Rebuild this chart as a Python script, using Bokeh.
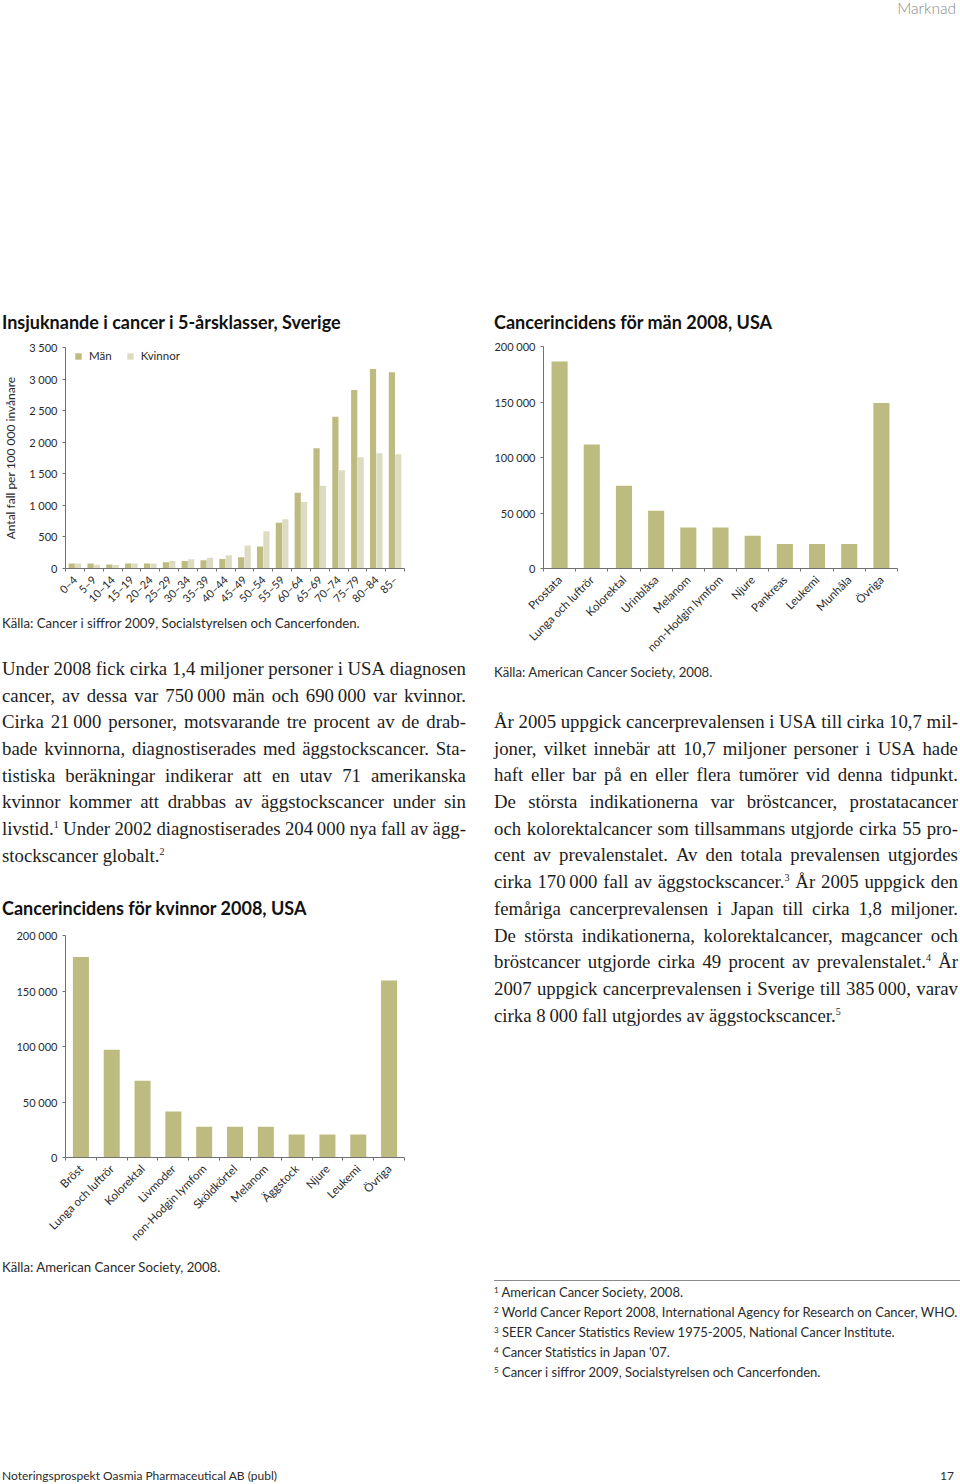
import math
from bokeh.plotting import figure
from bokeh.models import Range1d, FixedTicker, Legend, LegendItem, Div, ColumnDataSource
from bokeh.layouts import column, row
from bokeh.embed import file_html
from bokeh.resources import INLINE

# ---------------- data ----------------
age_groups = ["0–4", "5–9", "10–14", "15–19", "20–24", "25–29", "30–34", "35–39", "40–44",
              "45–49", "50–54", "55–59", "60–64", "65–69", "70–74", "75–79", "80–84", "85–"]
man_rate = [80, 80, 65, 80, 80, 100, 120, 130, 150, 180, 350, 725, 1200, 1905, 2405, 2825, 3160, 3110]
kvinnor_rate = [80, 60, 55, 80, 80, 120, 145, 170, 210, 365, 590, 780, 1055, 1310, 1555, 1760, 1825, 1810]
rate_ticks = [0, 500, 1000, 1500, 2000, 2500, 3000, 3500]

men_sites = ["Prostata", "Lunga och luftrör", "Kolorektal", "Urinblåsa", "Melanom",
             "non-Hodgin lymfom", "Njure", "Pankreas", "Leukemi", "Munhåla", "Övriga"]
men_cases = [186500, 111700, 74500, 52000, 37000, 37000, 29500, 22000, 22000, 22000, 149000]

women_sites = ["Bröst", "Lunga och luftrör", "Kolorektal", "Livmoder", "non-Hodgin lymfom",
               "Sköldkörtel", "Melanom", "Äggstock", "Njure", "Leukemi", "Övriga"]
women_cases = [180700, 97000, 69200, 41500, 27700, 27700, 27700, 20700, 20700, 20700, 159400]
case_ticks = [0, 50000, 100000, 150000, 200000]

# ---------------- styles ----------------
SANS = "Lato"
SERIF = "Liberation Serif"
OLIVE = "#bdbb80"
PALE = "#dddcc2"
AXIS = "#707070"
TXT = "#2a2a2a"
THIN = "\u2009"


def fmt(v):
    return f"{v:,}".replace(",", " ")


def bar_figure(width, height, bl, br, bt, bb, n, cats, ymax, yticks):
    p = figure(width=width, height=height, x_range=Range1d(0, n), y_range=Range1d(0, ymax),
               output_backend="svg", toolbar_location=None, title=None,
               min_border_left=bl, min_border_right=br, min_border_top=bt, min_border_bottom=bb)
    p.xgrid.visible = False
    p.ygrid.visible = False
    p.outline_line_color = None
    p.background_fill_color = "white"
    p.border_fill_color = "white"
    xa = p.xaxis[0]
    xa.ticker = FixedTicker(ticks=[i + 0.5 for i in range(n)], minor_ticks=list(range(n + 1)))
    xa.major_label_overrides = {i + 0.5: c for i, c in enumerate(cats)}
    xa.major_label_orientation = math.pi / 4
    xa.major_tick_line_color = None
    xa.minor_tick_in = 0
    xa.minor_tick_out = 3
    xa.minor_tick_line_color = AXIS
    xa.axis_line_color = AXIS
    xa.major_label_text_font = SANS
    xa.major_label_text_font_size = "11.5px"
    xa.major_label_text_color = TXT
    xa.major_label_standoff = 3
    ya = p.yaxis[0]
    ya.ticker = FixedTicker(ticks=yticks, minor_ticks=[])
    ya.major_label_overrides = {t: fmt(t) for t in yticks}
    ya.axis_line_color = AXIS
    ya.major_tick_line_color = AXIS
    ya.major_tick_in = 0
    ya.major_tick_out = 3
    ya.minor_tick_line_color = None
    ya.major_label_text_font = SANS
    ya.major_label_text_font_size = "11px"
    ya.major_label_text_color = TXT
    ya.major_label_standoff = 5
    return p


LW, RW = 488, 472

# Chart 1: Sweden by age group
n1 = len(age_groups)
src1 = ColumnDataSource(dict(
    xm=[i + 0.5 - 0.17 for i in range(n1)],
    xk=[i + 0.5 + 0.17 for i in range(n1)],
    man=man_rate, kv=kvinnor_rate))
p1 = bar_figure(LW, 278, 60, 75, 13, 43, n1, age_groups, 3500, rate_ticks)
r_m = p1.vbar(x="xm", top="man", width=0.33, source=src1, fill_color=OLIVE, line_color=None)
r_k = p1.vbar(x="xk", top="kv", width=0.33, source=src1, fill_color=PALE, line_color=None)
p1.xaxis.major_label_text_font_size = "11px"
p1.yaxis.axis_label = "Antal fall per 100 000 invånare"
p1.yaxis.axis_label_text_font = SANS
p1.yaxis.axis_label_text_font_size = "12px"
p1.yaxis.axis_label_text_font_style = "normal"
p1.yaxis.axis_label_text_color = TXT
p1.yaxis.axis_label_standoff = 8
p1.yaxis.major_label_standoff = 5
leg = Legend(items=[LegendItem(label="Män", renderers=[r_m]),
                    LegendItem(label="Kvinnor", renderers=[r_k])],
             orientation="horizontal", location=(9, 206),
             border_line_color=None, background_fill_alpha=0, padding=0, margin=0,
             spacing=14, glyph_width=8, glyph_height=8, label_standoff=7,
             label_height=12, label_width=10,
             label_text_font=SANS, label_text_font_size="11.5px", label_text_color=TXT)
p1.add_layout(leg)

# Chart 2: men USA
n2 = len(men_sites)
src2 = ColumnDataSource(dict(x=[i + 0.5 for i in range(n2)], v=men_cases))
p2 = bar_figure(RW, 327, 55, 63, 12, 93, n2, men_sites, 200000, case_ticks)
p2.vbar(x="x", top="v", width=0.5, source=src2, fill_color=OLIVE, line_color=None)

# Chart 3: women USA
n3 = len(women_sites)
src3 = ColumnDataSource(dict(x=[i + 0.5 for i in range(n3)], v=women_cases))
p3 = bar_figure(LW, 336, 52, 84, 15, 99, n3, women_sites, 200000, case_ticks)
p3.vbar(x="x", top="v", width=0.52, source=src3, fill_color=OLIVE, line_color=None)

# ---------------- texts ----------------
para1 = [
    "Under 2008 fick cirka 1,4 miljoner personer i USA diagnosen",
    "cancer, av dessa var 750" + THIN + "000 män och 690" + THIN + "000 var kvinnor.",
    "Cirka 21" + THIN + "000 personer, motsvarande tre procent av de drab-",
    "bade kvinnorna, diagnostiserades med äggstockscancer. Sta-",
    "tistiska beräkningar indikerar att en utav 71 amerikanska",
    "kvinnor kommer att drabbas av äggstockscancer under sin",
    "livstid.<sup1> Under 2002 diagnostiserades 204" + THIN + "000 nya fall av ägg-",
    "stockscancer globalt.<sup2>",
]
para2 = [
    "År 2005 uppgick cancerprevalensen i USA till cirka 10,7 mil-",
    "joner, vilket innebär att 10,7 miljoner personer i USA hade",
    "haft eller bar på en eller flera tumörer vid denna tidpunkt.",
    "De största indikationerna var bröstcancer, prostatacancer",
    "och kolorektalcancer som tillsammans utgjorde cirka 55 pro-",
    "cent av prevalenstalet. Av den totala prevalensen utgjordes",
    "cirka 170" + THIN + "000 fall av äggstockscancer.<sup3> År 2005 uppgick den",
    "femåriga cancerprevalensen i Japan till cirka 1,8 miljoner.",
    "De största indikationerna, kolorektalcancer, magcancer och",
    "bröstcancer utgjorde cirka 49 procent av prevalenstalet.<sup4> År",
    "2007 uppgick cancerprevalensen i Sverige till 385" + THIN + "000, varav",
    "cirka 8" + THIN + "000 fall utgjordes av äggstockscancer.<sup5>",
]
footnotes = [
    "American Cancer Society, 2008.",
    "World Cancer Report 2008, International Agency for Research on Cancer, WHO.",
    "SEER Cancer Statistics Review 1975-2005, National Cancer Institute.",
    "Cancer Statistics in Japan '07.",
    "Cancer i siffror 2009, Socialstyrelsen och Cancerfonden.",
]


def sup_serif(s):
    for k in range(1, 6):
        s = s.replace(f"<sup{k}>", f'<span style="position:relative;top:-7px;font-size:10px;">{k}</span>')
    return s


def para_div(lines, width, pad_left, host_w, lh=26.7, fs=18.8):
    parts = []
    for i, l in enumerate(lines):
        if i == len(lines) - 1:
            parts.append(f'<div style="width:{width}px;height:{lh}px;line-height:{lh}px;'
                         f'white-space:nowrap;">{sup_serif(l)}</div>')
        else:
            words = "".join(f"<span>{sup_serif(w)}</span>" for w in l.split(" "))
            parts.append(f'<div style="display:flex;justify-content:space-between;width:{width}px;'
                         f'height:{lh}px;line-height:{lh}px;white-space:nowrap;">{words}</div>')
    html = (f'<div style="padding-left:{pad_left}px;font-family:\'{SERIF}\';font-size:{fs}px;'
            f'color:#1c1c1c;">' + "".join(parts) + "</div>")
    return Div(text=html, width=host_w, height=int(math.ceil(lh * len(lines))), margin=0)


def text_div(txt, width, height, size, pad_left=0, weight="normal", color=TXT, align="left", pad_right=0):
    html = (f'<div style="width:{width - pad_left - pad_right}px;padding-left:{pad_left}px;'
            f'padding-right:{pad_right}px;height:{height}px;'
            f'line-height:{height}px;font-family:{SANS};font-size:{size}px;font-weight:{weight};'
            f'color:{color};text-align:{align};white-space:nowrap;">{txt}</div>')
    return Div(text=html, width=width, height=height, margin=0)


def spacer(width, height):
    return Div(text="", width=width, height=height, margin=0)


left = column(
    text_div("Insjuknande i cancer i 5-årsklasser, Sverige", LW, 24, 18, 2, "bold", "#111"),
    p1,
    text_div("Källa: Cancer i siffror 2009, Socialstyrelsen och Cancerfonden.", LW, 22, 13.2, 2),
    spacer(LW, 22),
    para_div(para1, 464, 2, LW),
    spacer(LW, 26),
    text_div("Cancerincidens för kvinnor 2008, USA", LW, 24, 18, 2, "bold", "#111"),
    p3,
    text_div("Källa: American Cancer Society, 2008.", LW, 22, 13.2, 2),
    spacing=0,
)

fn_html = "".join(
    f'<div style="height:20px;line-height:20px;white-space:nowrap;">'
    f'<span style="position:relative;top:-4px;font-size:8px;">{i + 1}</span> {t}</div>'
    for i, t in enumerate(footnotes))
fn_div = Div(text=(f'<div style="width:466px;margin-left:6px;border-top:1px solid #8a8a8a;'
                   f'padding-top:1px;font-family:{SANS};font-size:13px;color:{TXT};">{fn_html}</div>'),
             width=RW, height=104, margin=0)

right = column(
    text_div("Cancerincidens för män 2008, USA", RW, 24, 18, 6, "bold", "#111"),
    p2,
    text_div("Källa: American Cancer Society, 2008.", RW, 22, 13.2, 6),
    spacer(RW, 26),
    para_div(para2, 464, 6, RW),
    spacer(RW, 250),
    fn_div,
    spacing=0,
)

header = text_div("Marknad", 960, 16, 15.5, 0, "300", "#8a8a8a", "right", 2)
footer = Div(text=(f'<div style="width:956px;padding:0 2px;height:14px;line-height:14px;display:flex;'
                   f'justify-content:space-between;font-family:{SANS};font-size:12px;color:{TXT};">'
                   f'<span>Noteringsprospekt Oasmia Pharmaceutical AB (publ)</span><span>17</span></div>'),
             width=960, height=14, margin=0)

page = column(header, spacer(960, 294), row(left, right, spacing=0), spacer(960, 84), footer, spacing=0)

open("out.html", "w").write(file_html(page, INLINE))
